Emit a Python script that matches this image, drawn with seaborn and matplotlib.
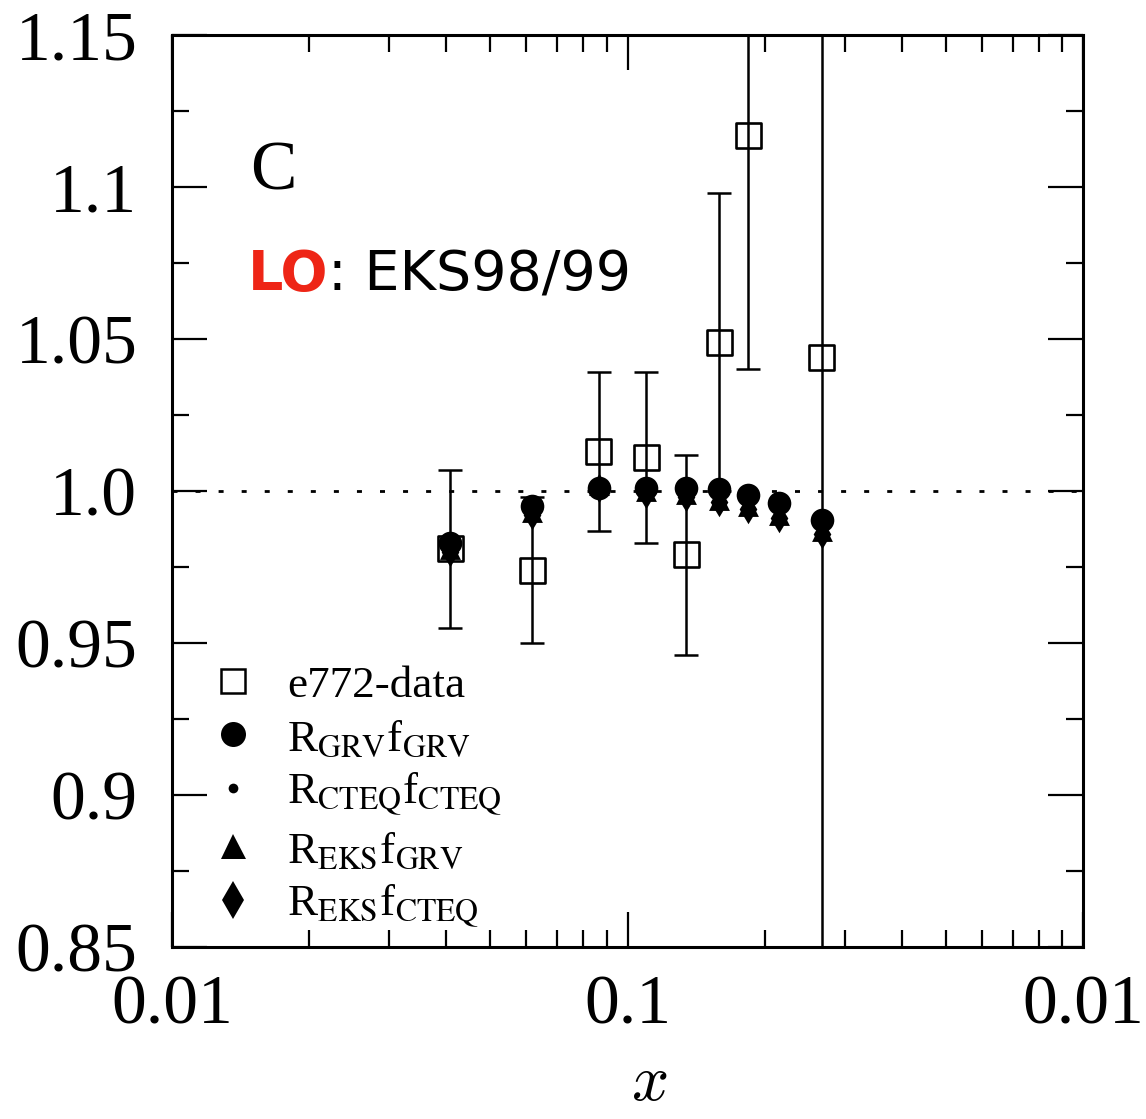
import numpy as np
import pandas as pd
import matplotlib
matplotlib.use("Agg")
import matplotlib.pyplot as plt
import matplotlib.ticker as mticker
from matplotlib.lines import Line2D
import seaborn as sns

# E772 measured ratios with errors
data_x = [0.0408, 0.0617, 0.0864, 0.110, 0.1346, 0.159, 0.184, 0.267]
data_y = [0.981, 0.974, 1.013, 1.011, 0.979, 1.049, 1.117, 1.044]
data_err = [0.026, 0.024, 0.026, 0.028, 0.033, 0.049, 0.077, 0.25]

# LO model predictions
model_x = [0.0408, 0.0617, 0.0864, 0.110, 0.1346, 0.159, 0.184, 0.215, 0.267]
grv_grv = [0.983, 0.995, 1.001, 1.001, 1.001, 1.0006, 0.9987, 0.996, 0.9905]
cteq_cteq = [0.982, 0.994, 1.000, 1.000, 1.000, 0.999, 0.997, 0.994, 0.989]
eks_grv = [0.981, 0.993, 1.002, 1.000, 0.999, 0.997, 0.995, 0.992, 0.987]
eks_cteq = [0.980, 0.992, 1.001, 0.999, 0.998, 0.9965, 0.994, 0.991, 0.986]

y_ticks = [0.85, 0.90, 0.95, 1.00, 1.05, 1.10, 1.15]
y_ticklabels = ["0.85", "0.9", "0.95", "1.0", "1.05", "1.1", "1.15"]
x_ticks = [0.01, 0.1, 1.0]
x_ticklabels = ["0.01", "0.1", "0.01"]

legend_labels = [
    "e772-data",
    r"R$_{\mathrm{GRV}}$f$_{\mathrm{GRV}}$",
    r"R$_{\mathrm{CTEQ}}$f$_{\mathrm{CTEQ}}$",
    r"R$_{\mathrm{EKS}}$f$_{\mathrm{GRV}}$",
    r"R$_{\mathrm{EKS}}$f$_{\mathrm{CTEQ}}$",
]

sns.set_theme(style="ticks")
plt.rcParams["font.family"] = ["Liberation Serif", "DejaVu Serif"]
plt.rcParams["mathtext.fontset"] = "stix"
plt.rcParams["text.color"] = "black"
plt.rcParams["xtick.color"] = "black"
plt.rcParams["ytick.color"] = "black"
plt.rcParams["xtick.labelcolor"] = "black"
plt.rcParams["ytick.labelcolor"] = "black"

df_data = pd.DataFrame({"x": data_x, "y": data_y, "err": data_err})
df_model = pd.DataFrame({
    "x": model_x, "grv_grv": grv_grv, "cteq_cteq": cteq_cteq,
    "eks_grv": eks_grv, "eks_cteq": eks_cteq,
})

fig = plt.figure(figsize=(11.46, 11.19), dpi=100)
ax = fig.add_axes([0.1501, 0.1537, 0.7950, 0.8150])
ax.set_xscale("log")
ax.set_xlim(0.01, 1.0)
ax.set_ylim(0.85, 1.15)

# reference line at unity
ax.axhline(1.0, color="black", lw=2, ls=(0, (1.8, 6.5)), zorder=1)

# measured points with error bars
ax.errorbar(df_data["x"], df_data["y"], yerr=df_data["err"], fmt="none",
            ecolor="black", elinewidth=1.8, capsize=8.3, capthick=1.8, zorder=2)
sns.scatterplot(data=df_data, x="x", y="y", marker="s", s=18 ** 2,
                facecolor="none", edgecolor="black", linewidth=1.9,
                ax=ax, zorder=3, legend=False)

# model curves as filled markers
sns.scatterplot(data=df_model, x="x", y="eks_cteq", marker="d", s=15 ** 2,
                color="black", linewidth=0, ax=ax, zorder=4, legend=False)
sns.scatterplot(data=df_model, x="x", y="eks_grv", marker="^", s=15 ** 2,
                color="black", linewidth=0, ax=ax, zorder=5, legend=False)
sns.scatterplot(data=df_model, x="x", y="cteq_cteq", marker="o", s=7 ** 2,
                color="black", linewidth=0, ax=ax, zorder=6, legend=False)
sns.scatterplot(data=df_model, x="x", y="grv_grv", marker="o", s=17 ** 2,
                color="black", linewidth=0, ax=ax, zorder=7, legend=False)

# axes styling
for sp in ax.spines.values():
    sp.set_linewidth(2.2)
    sp.set_color("black")
ax.set_xticks(x_ticks)
ax.set_xticklabels(x_ticklabels)
ax.xaxis.set_minor_locator(mticker.LogLocator(base=10, subs=np.arange(2, 10)))
ax.xaxis.set_minor_formatter(mticker.NullFormatter())
ax.set_yticks(y_ticks)
ax.set_yticklabels(y_ticklabels)
ax.yaxis.set_minor_locator(mticker.MultipleLocator(0.025))
ax.tick_params(which="both", direction="in", top=True, right=True,
               width=1.6, color="black", labelcolor="black")
ax.tick_params(which="major", length=25)
ax.tick_params(which="minor", length=12.5)
ax.tick_params(axis="y", which="major", labelsize=50, pad=25)
ax.tick_params(axis="x", which="major", labelsize=50, pad=20)
ax.set_xlabel("")
ax.set_ylabel("")
ax.text(0.524, -0.183, r"$x$", transform=ax.transAxes, fontsize=47,
        math_fontfamily="cm", ha="center", va="bottom", color="black")

# panel annotations
ax.text(0.0856, 0.831, "C", transform=ax.transAxes, fontsize=50,
        ha="left", va="baseline", color="black")
lo = ax.text(0.0834, 0.7204, "LO", transform=ax.transAxes, fontsize=40,
             family="DejaVu Sans", weight="bold", color="#EE2516",
             ha="left", va="baseline")
ax.annotate(": EKS98/99", xy=(1, 0), xycoords=lo, fontsize=40,
            family="DejaVu Sans", color="black", ha="left", va="bottom")

# legend
handles = [
    Line2D([], [], ls="none", marker="s", ms=17, mfc="none", mec="black", mew=1.8),
    Line2D([], [], ls="none", marker="o", ms=18, mfc="black", mec="black", mew=0),
    Line2D([], [], ls="none", marker="o", ms=7, mfc="black", mec="black", mew=0),
    Line2D([], [], ls="none", marker="^", ms=18, mfc="black", mec="black", mew=0),
    Line2D([], [], ls="none", marker="d", ms=19, mfc="black", mec="black", mew=0),
]
leg = ax.legend(handles, legend_labels, loc="upper left",
                bbox_to_anchor=(0.042, 0.309), frameon=False, fontsize=32.5,
                handlelength=1.0, handletextpad=0.7, labelspacing=0.27,
                borderaxespad=0, borderpad=0)
for t in leg.get_texts():
    t.set_color("black")

fig.savefig("out.png", dpi=100)
